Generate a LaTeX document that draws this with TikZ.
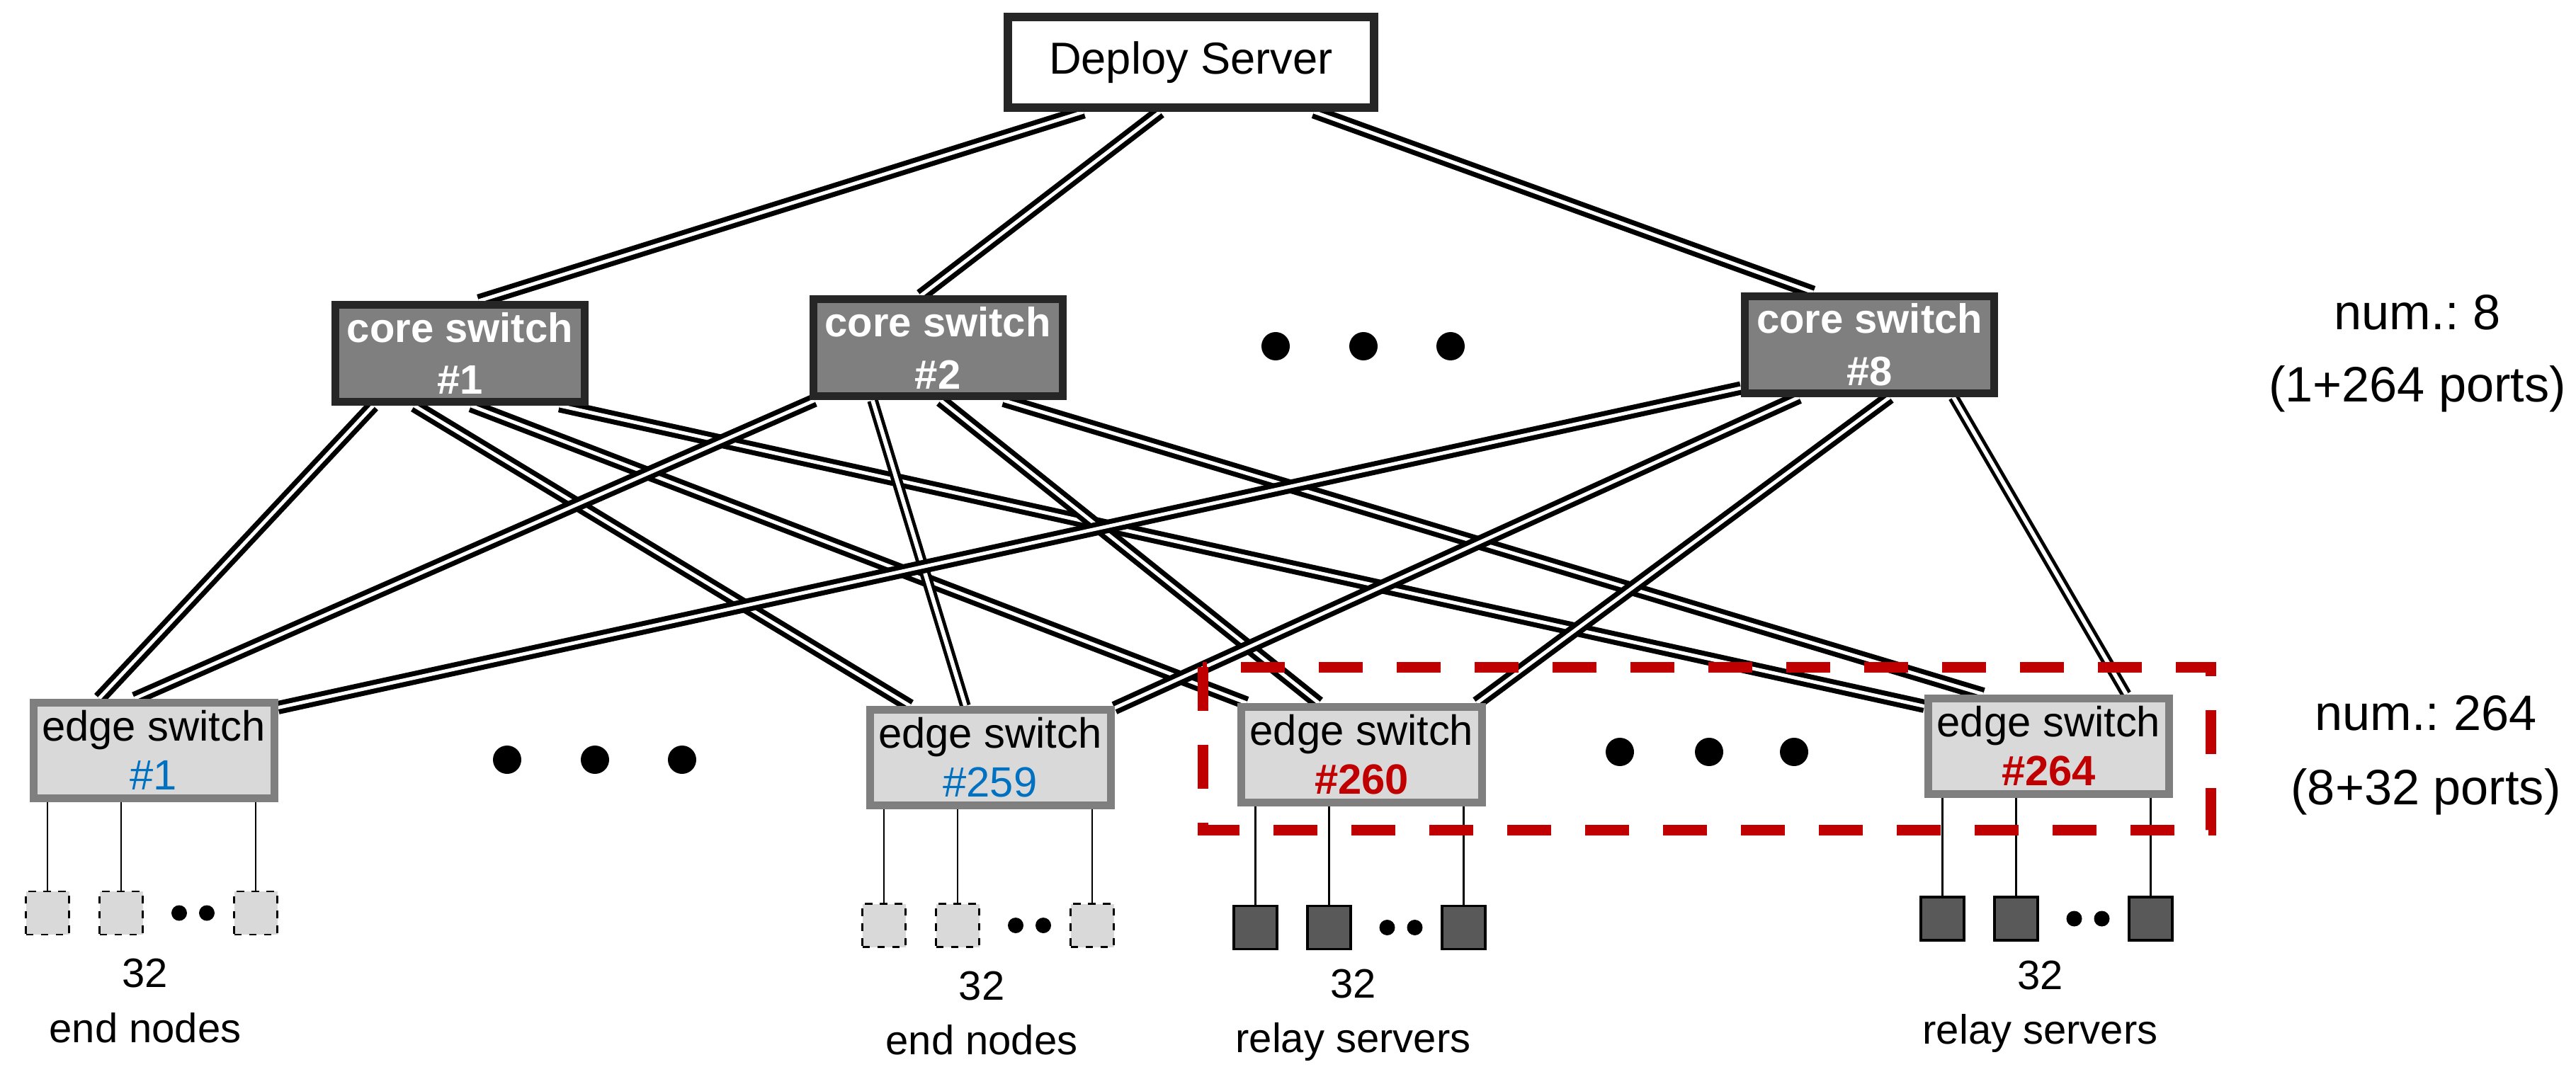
\documentclass[tikz,border=0pt]{standalone}
\usepackage{fontspec}
\setmainfont{Liberation Sans}
\usepackage{xcolor}
\usepackage{tikz}
\usetikzlibrary{positioning,backgrounds}
\frenchspacing

\definecolor{boxline}{HTML}{262626}
\definecolor{coregray}{HTML}{7F7F7F}
\definecolor{edgefill}{HTML}{D9D9D9}
\definecolor{relayfill}{HTML}{595959}
\definecolor{idblue}{HTML}{0070C0}
\definecolor{idred}{HTML}{C00000}

\begin{document}
\begin{tikzpicture}[
  server/.style={draw=boxline, fill=white, line width=0.12cm, minimum width=5.17cm, minimum height=1.28cm, inner sep=0pt, font=\fontsize{18}{22}\selectfont},
  coresw/.style={draw=boxline, fill=coregray, line width=0.11cm, minimum width=3.52cm, minimum height=1.37cm, inner sep=0pt, align=center, text=white, font=\fontsize{16.5}{21}\selectfont\bfseries},
  edgesw/.style={draw=coregray, fill=edgefill, line width=0.11cm, minimum width=3.40cm, minimum height=1.35cm, inner sep=0pt, align=center, font=\fontsize{17}{19.6}\selectfont},
  endnode/.style={draw=black, dashed, fill=edgefill, line width=0.8pt, minimum size=0.61cm, inner sep=0pt},
  relay/.style={draw=black, fill=relayfill, line width=1pt, minimum size=0.61cm, inner sep=0pt},
  link/.style={double, double distance=1.4pt, line width=2pt},
  thinlink/.style={double, double distance=1.6pt, line width=1.4pt},
  wire/.style={line width=0.8pt},
  hostlabel/.style={align=center, font=\fontsize{16.5}{22}\selectfont},
  countlabel/.style={align=center, font=\fontsize{20}{29}\selectfont},
  hilite/.style={draw=idred, line width=0.15cm, dash pattern=on 0.62cm off 0.48cm}
]
\useasboundingbox (0,0) rectangle (36.37,15.06);

% servers and switches
\node[server] (deploy) at (16.815,14.18) {Deploy Server};
\node[coresw] (core1) at (6.495,10.07) {core switch\\\#1};
\node[coresw] (core2) at (13.24,10.145) {core switch\\\#2};
\node[coresw] (core8) at (26.395,10.19) {core switch\\\#8};
\node[edgesw] (edge1) at (2.17,4.465) {edge switch\\\textcolor{idblue}{\#1}};
\node[edgesw] (edge259) at (13.98,4.36) {edge switch\\\textcolor{idblue}{\#259}};
\node[edgesw] (edge260) at (19.225,4.40) {edge switch\\\textcolor{idred}{\bfseries\#260}};
\node[edgesw] (edge264) at (28.925,4.525) {edge switch\\\textcolor{idred}{\bfseries\#264}};

\begin{scope}[on background layer]
  \draw[link] ([xshift=-1.515cm]deploy.south) -- ([xshift=0.265cm]core1.north);
  \draw[link] ([xshift=-0.435cm]deploy.south) -- ([xshift=-0.24cm]core2.north);
  \draw[link] ([xshift=1.735cm]deploy.south) -- ([xshift=-0.795cm]core8.north);
  % core 1
  \draw[link] ([xshift=-1.225cm]core1.south) -- ([xshift=-0.77cm]edge1.north);
  \draw[link] ([xshift=-0.645cm]core1.south) -- ([xshift=-1.13cm]edge259.north);
  \draw[link] ([xshift=0.155cm]core1.south) -- ([xshift=-1.625cm]edge260.north);
  \draw[link] ([xshift=1.405cm]core1.south) -- ([yshift=-0.17cm]edge264.north west);
  % core 2
  \draw[link] ([xshift=-1.74cm]core2.south) -- ([xshift=-0.27cm]edge1.north);
  \draw[thinlink] ([xshift=-0.92cm]core2.south) -- ([xshift=-0.35cm]edge259.north);
  \draw[link] ([xshift=0.04cm]core2.south) -- ([xshift=-0.605cm]edge260.north);
  \draw[link] ([xshift=0.93cm]core2.south) -- ([xshift=-0.925cm]edge264.north);
  % core 8
  \draw[link] ([yshift=-0.61cm]core8.west) -- ([yshift=-0.13cm]edge1.north east);
  \draw[link] ([xshift=-0.995cm]core8.south) -- ([yshift=-0.03cm]edge259.north east);
  \draw[link] ([xshift=0.285cm]core8.south) -- ([xshift=1.625cm]edge260.north);
  \draw[thinlink] ([xshift=1.185cm]core8.south) -- ([xshift=1.095cm]edge264.north);
\end{scope}

% hosts under the edge switches
\foreach \sw/\kind/\dy/\what in {edge1/endnode/1.57/end nodes, edge259/endnode/1.64/end nodes, edge260/relay/1.71/relay servers, edge264/relay/1.71/relay servers}{
  \node[\kind] (\sw-a) at ([xshift=-1.50cm,yshift={-\dy*1cm}]\sw.south) {};
  \node[\kind] (\sw-b) at ([xshift=-0.46cm,yshift={-\dy*1cm}]\sw.south) {};
  \node[\kind] (\sw-c) at ([xshift=1.44cm,yshift={-\dy*1cm}]\sw.south) {};
  \foreach \h in {a,b,c}
    \draw[wire] (\sw-\h.north |- \sw.south) -- (\sw-\h.north);
  \fill ([xshift=0.82cm]\sw-b.center) circle (0.11cm);
  \fill ([xshift=1.21cm]\sw-b.center) circle (0.11cm);
  \node[hostlabel] (\sw-txt) at ([xshift=-0.12cm,yshift={-(\dy+1.24)*1cm}]\sw.south) {32\\\what};
}

% dots
\foreach \x in {18.01,19.25,20.48} \fill (\x,10.17) circle (0.2cm);
\foreach \x in {7.16,8.40,9.63} \fill (\x,4.33) circle (0.2cm);
\foreach \x in {22.87,24.13,25.33} \fill (\x,4.44) circle (0.2cm);

\draw[hilite] (16.98,5.64) rectangle (31.21,3.34);

\node[countlabel] (corecount) at (34.13,10.07) {num.: 8\\(1+264 ports)};
\node[countlabel, font=\fontsize{20}{30}\selectfont] (edgecount) at (34.25,4.39) {num.: 264\\(8+32 ports)};
\end{tikzpicture}
\end{document}
